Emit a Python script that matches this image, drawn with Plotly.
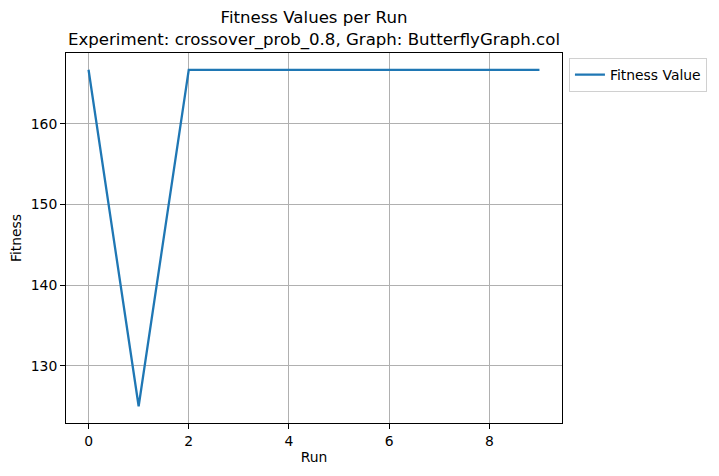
import plotly.graph_objects as go

# fitness per run
runs = [0, 1, 2, 3, 4, 5, 6, 7, 8, 9]
fitness = [166.67, 125.0, 166.67, 166.67, 166.67, 166.67, 166.67, 166.67, 166.67, 166.67]
x_ticks = [0, 2, 4, 6, 8]
y_ticks = [130, 140, 150, 160]

font = dict(family="DejaVu Sans", size=13.9, color="black")

fig = go.Figure()
fig.add_trace(go.Scatter(
    x=runs, y=fitness, mode="lines", name="Fitness Value",
    line=dict(color="#1f77b4", width=2.3),
))

axis = dict(
    showline=True, linecolor="black", linewidth=1, mirror=True,
    showgrid=True, gridcolor="#b0b0b0", gridwidth=0.8,
    ticks="outside", ticklen=5, tickcolor="black",
    zeroline=False, tickfont=font, automargin=False,
)

# the page has an 8px body margin, so the figure is a bit smaller than the window
fig.update_layout(
    width=711, height=468,
    margin=dict(l=58, r=157, t=45, b=53),
    paper_bgcolor="white", plot_bgcolor="white",
    font=font,
    title=dict(
        text="Fitness Values per Run<br>Experiment: crossover_prob_0.8, Graph: ButterflyGraph.col",
        x=(58 + 554) / 2 / 711, xanchor="center", y=0.967, yanchor="top",
        font=dict(family="DejaVu Sans", size=16.6, color="black"),
    ),
    xaxis=dict(axis, range=[-0.45, 9.45], tickvals=x_ticks,
               title=dict(text="Run", standoff=4, font=font)),
    yaxis=dict(axis, range=[122.92, 168.75], tickvals=y_ticks,
               title=dict(text="Fitness", standoff=8, font=font)),
    showlegend=True,
    legend=dict(
        x=1.014, y=0.986, xanchor="left", yanchor="top",
        bordercolor="#d0d0d0", borderwidth=1, bgcolor="white",
        font=font,
    ),
)

fig.write_html("out.html")
